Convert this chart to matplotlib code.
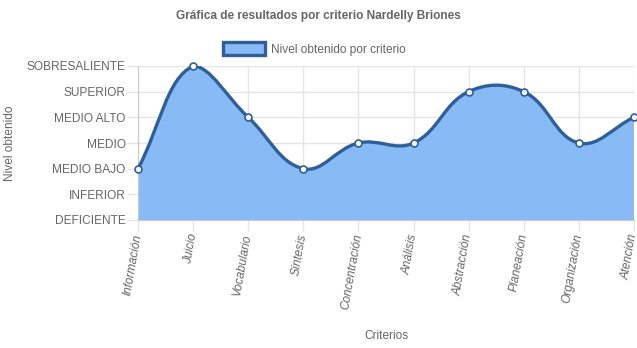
import numpy as np
import matplotlib
matplotlib.use("Agg")
import matplotlib.pyplot as plt
from matplotlib.path import Path
from matplotlib.patches import PathPatch, Patch

plt.rcParams['font.family'] = ['Liberation Sans', 'DejaVu Sans']

# data
criterios = ["Información", "Juicio", "Vocabulario", "Síntesis", "Concentración",
             "Análisis", "Abstracción", "Planeación", "Organización", "Atención"]
niveles = ["DEFICIENTE", "INFERIOR", "MEDIO BAJO", "MEDIO", "MEDIO ALTO",
           "SUPERIOR", "SOBRESALIENTE"]
valores = [2, 6, 4, 2, 3, 3, 5, 5, 3, 4]

txt = "#666666"
grid_c = "#e5e5e5"
fill_c = "#88bbf5"
line_c = "#2f5f98"
fs = 8.6

fig = plt.figure(figsize=(6.37, 3.48), dpi=100)
ax = fig.add_axes([138/637, 1-220/348, (634-138)/637, (220-66)/348])
ax.set_xlim(0, len(criterios)-1)
ax.set_ylim(0, len(niveles)-1)

# chart.js style spline (tension 0.4), computed in pixel space
def spline_path(xs, ys, t=0.4):
    pts = ax.transData.transform(np.column_stack([xs, ys]))
    x0, y0 = ax.transData.transform((0, 0))
    x1, y1 = ax.transData.transform((len(xs)-1, len(niveles)-1))
    n = len(pts)
    cin, cout = [], []
    for i in range(n):
        p = pts[max(i-1, 0)]; c = pts[i]; nx = pts[min(i+1, n-1)]
        d01 = np.hypot(*(c-p)); d12 = np.hypot(*(nx-c))
        s = d01 + d12
        s01 = d01/s if s else 0; s12 = d12/s if s else 0
        a = c - t*s01*(nx-p)
        b = c + t*s12*(nx-p)
        a = np.clip(a, [x0, y0], [x1, y1]); b = np.clip(b, [x0, y0], [x1, y1])
        cin.append(a); cout.append(b)
    verts = [pts[0]]; codes = [Path.MOVETO]
    for i in range(1, n):
        verts += [cout[i-1], cin[i], pts[i]]
        codes += [Path.CURVE4]*3
    inv = ax.transData.inverted()
    return inv.transform(np.array(verts)), codes

xs = np.arange(len(criterios))
verts, codes = spline_path(xs, valores)
fv = np.vstack([verts, [[xs[-1], 0], [xs[0], 0], verts[0]]])
fc = codes + [Path.LINETO, Path.LINETO, Path.CLOSEPOLY]
ax.add_patch(PathPatch(Path(fv, fc), facecolor=fill_c, edgecolor="none", zorder=2))
ax.add_patch(PathPatch(Path(verts, codes), facecolor="none", edgecolor=line_c, lw=2.4, zorder=3))
ax.plot(xs, valores, "o", ms=5, mfc="white", mec=line_c, mew=1.2, zorder=4, clip_on=False)

ax.set_yticks(range(len(niveles)))
ax.set_yticklabels(niveles)
ax.set_xticks(xs)
ax.set_xticklabels(criterios, rotation=80, ha="right", va="center",
                   rotation_mode="anchor", style="italic")
ax.tick_params(axis="both", colors=grid_c, labelcolor=txt, labelsize=fs, length=8, width=1)
ax.tick_params(axis="y", pad=1)
ax.tick_params(axis="x", pad=2)
ax.grid(True, color=grid_c, lw=1, zorder=0)
ax.set_axisbelow(True)
for s in ["top", "right"]:
    ax.spines[s].set_visible(False)
ax.spines["left"].set_color("#c8c8c8")
ax.spines["bottom"].set_color("#c8c8c8")

fig.text(0.5, 1-16/348, "Gráfica de resultados por criterio Nardelly Briones",
         ha="center", va="center", fontsize=fs, fontweight="bold", color=txt)
fig.text(10/637, 1-143/348, "Nivel obtenido", rotation=90, ha="center", va="center",
         fontsize=fs, color=txt)
fig.text(386/637, 1-336/348, "Criterios", ha="center", va="center", fontsize=fs, color=txt)

fig.legend(handles=[Patch(facecolor=fill_c, edgecolor=line_c, lw=2.4, label="Nivel obtenido por criterio")],
           loc="center", bbox_to_anchor=(314/637, 1-49/348), frameon=False, fontsize=fs,
           labelcolor=txt, handlelength=3.5, handleheight=1.2, handletextpad=0.5)

fig.savefig("out.png", dpi=100)
